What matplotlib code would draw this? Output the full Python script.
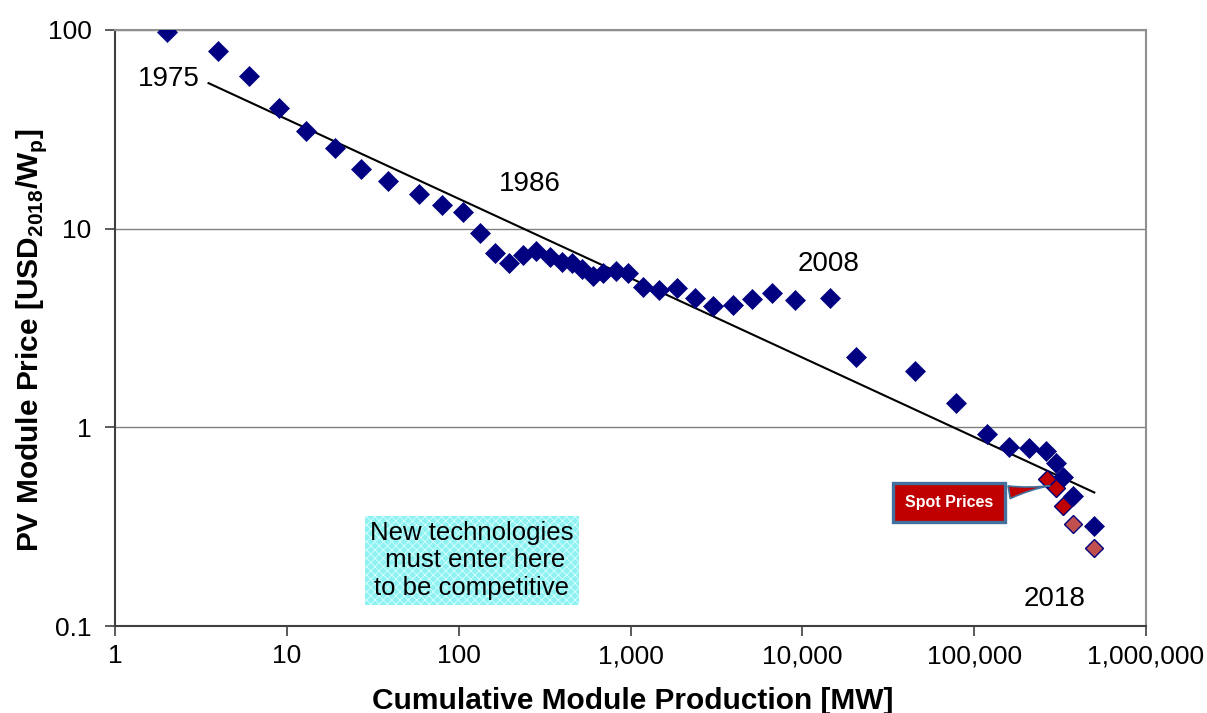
import numpy as np
import matplotlib
matplotlib.use('Agg')
import matplotlib.pyplot as plt
from matplotlib.ticker import FuncFormatter, NullLocator

plt.rcParams['font.family'] = ['Liberation Sans', 'DejaVu Sans']
plt.rcParams['mathtext.fontset'] = 'custom'
plt.rcParams['mathtext.rm'] = 'Liberation Sans'
plt.rcParams['mathtext.bf'] = 'Liberation Sans:bold'
plt.rcParams['hatch.linewidth'] = 0.6

# ── data ──
cum_mw = [2, 4, 6, 9, 12.9, 19.1, 27, 38.8, 58.8, 80, 106, 133, 163, 196, 237,
          282, 340, 400, 457, 523, 606, 692, 824, 970, 1186, 1468, 1868, 2377,
          3020, 3950, 5100, 6670, 9080, 14500, 20560, 45400, 78500, 118800,
          160000, 209000, 263000, 300000, 330000, 377000, 500000]
price = [98, 78, 58.6, 40.4, 31, 25.4, 19.9, 17.3, 14.9, 13.1, 12.1, 9.47, 7.5,
         6.68, 7.33, 7.7, 7.2, 6.76, 6.7, 6.3, 5.75, 5.96, 6.1, 6.0, 5.06, 4.89,
         5.0, 4.5, 4.06, 4.15, 4.4, 4.72, 4.35, 4.5, 2.27, 1.91, 1.33, 0.93,
         0.80, 0.79, 0.76, 0.66, 0.56, 0.45, 0.32]

spot_mw = [265000, 300000, 330000]
spot_price = [0.55, 0.496, 0.40]
spot2_mw = [377000, 500000]
spot2_price = [0.327, 0.247]

fit_mw = [3.5, 500000]
fit_price = [54, 0.47]

x_ticks = [1, 10, 100, 1000, 10000, 100000, 1000000]
y_ticks = [0.1, 1, 10, 100]

fig = plt.figure(figsize=(12.07, 7.13), dpi=100)
ax = fig.add_axes([0.0953, 0.122, 0.8542, 0.836])

ax.set_xscale('log')
ax.set_yscale('log')
ax.set_xlim(1, 1e6)
ax.set_ylim(0.1, 100)
ax.set_xticks(x_ticks)
ax.set_yticks(y_ticks)

ax.yaxis.grid(True, which='major', color='#808080', lw=1.0)
ax.set_axisbelow(True)

ax.plot(fit_mw, fit_price, color='black', lw=1.5, zorder=3)
ax.plot(cum_mw, price, ls='none', marker='D', ms=10, color='#000080',
        mec='#000080', mew=0.5, zorder=4)
ax.plot(spot_mw, spot_price, ls='none', marker='D', ms=9.5, color='#c00000',
        mec='#000080', mew=1.0, zorder=5)
ax.plot(spot2_mw, spot2_price, ls='none', marker='D', ms=9.5, color='#c0504d',
        mec='#000080', mew=1.0, zorder=5)

# axes styling
for side in ['top', 'right']:
    ax.spines[side].set_color('#909090')
    ax.spines[side].set_linewidth(1.5)
for side in ['left', 'bottom']:
    ax.spines[side].set_color('#404040')
    ax.spines[side].set_linewidth(1.5)

ax.xaxis.set_minor_locator(NullLocator())
ax.yaxis.set_minor_locator(NullLocator())
ax.xaxis.set_major_formatter(FuncFormatter(lambda v, p: f'{v:,.0f}'))
ax.yaxis.set_major_formatter(FuncFormatter(lambda v, p: f'{v:g}'))
ax.tick_params(axis='both', labelsize=19, length=7, width=1.2, color='#404040')
ax.tick_params(axis='x', pad=6)
ax.tick_params(axis='y', pad=10)

ax.set_xlabel('Cumulative Module Production [MW]', fontsize=21.5, fontweight='bold')
ax.set_ylabel(r'PV Module Price [USD$_\mathbf{2018}$/W$_\mathbf{p}$]', fontsize=21.5,
              fontweight='bold')
ax.xaxis.set_label_coords(0.502, -0.102)
ax.yaxis.set_label_coords(-0.064, 0.48)

# year labels
ax.text(0.052, 0.918, '1975', transform=ax.transAxes, fontsize=20, ha='center', va='center')
ax.text(0.402, 0.742, '1986', transform=ax.transAxes, fontsize=20, ha='center', va='center')
ax.text(0.692, 0.607, '2008', transform=ax.transAxes, fontsize=20, ha='center', va='center')
ax.text(0.911, 0.046, '2018', transform=ax.transAxes, fontsize=20, ha='center', va='center')

# note box
ax.text(0.346, 0.110, 'New technologies\n must enter here\nto be competitive',
        transform=ax.transAxes, fontsize=18.5, ha='center', va='center',
        multialignment='center', linespacing=1.2,
        bbox=dict(boxstyle='square,pad=0.2', facecolor='#8ff2f2',
                  edgecolor='#d8ffff', hatch='xxxx', lw=0))

# spot price callout
ax.annotate('Spot Prices', xy=(spot_mw[0] * 1.08, spot_price[0] * 0.93), xycoords='data',
            xytext=(0.809, 0.208), textcoords='axes fraction',
            fontsize=11.5, fontweight='bold', color='white', ha='center', va='center',
            bbox=dict(boxstyle='square,pad=0.75', facecolor='#c00000',
                      edgecolor='#41719c', lw=2.4),
            arrowprops=dict(arrowstyle='wedge,tail_width=0.8,shrink_factor=0.3',
                            facecolor='#c00000', edgecolor='#41719c', lw=1.2),
            zorder=6)

fig.savefig('out.png', dpi=100)
